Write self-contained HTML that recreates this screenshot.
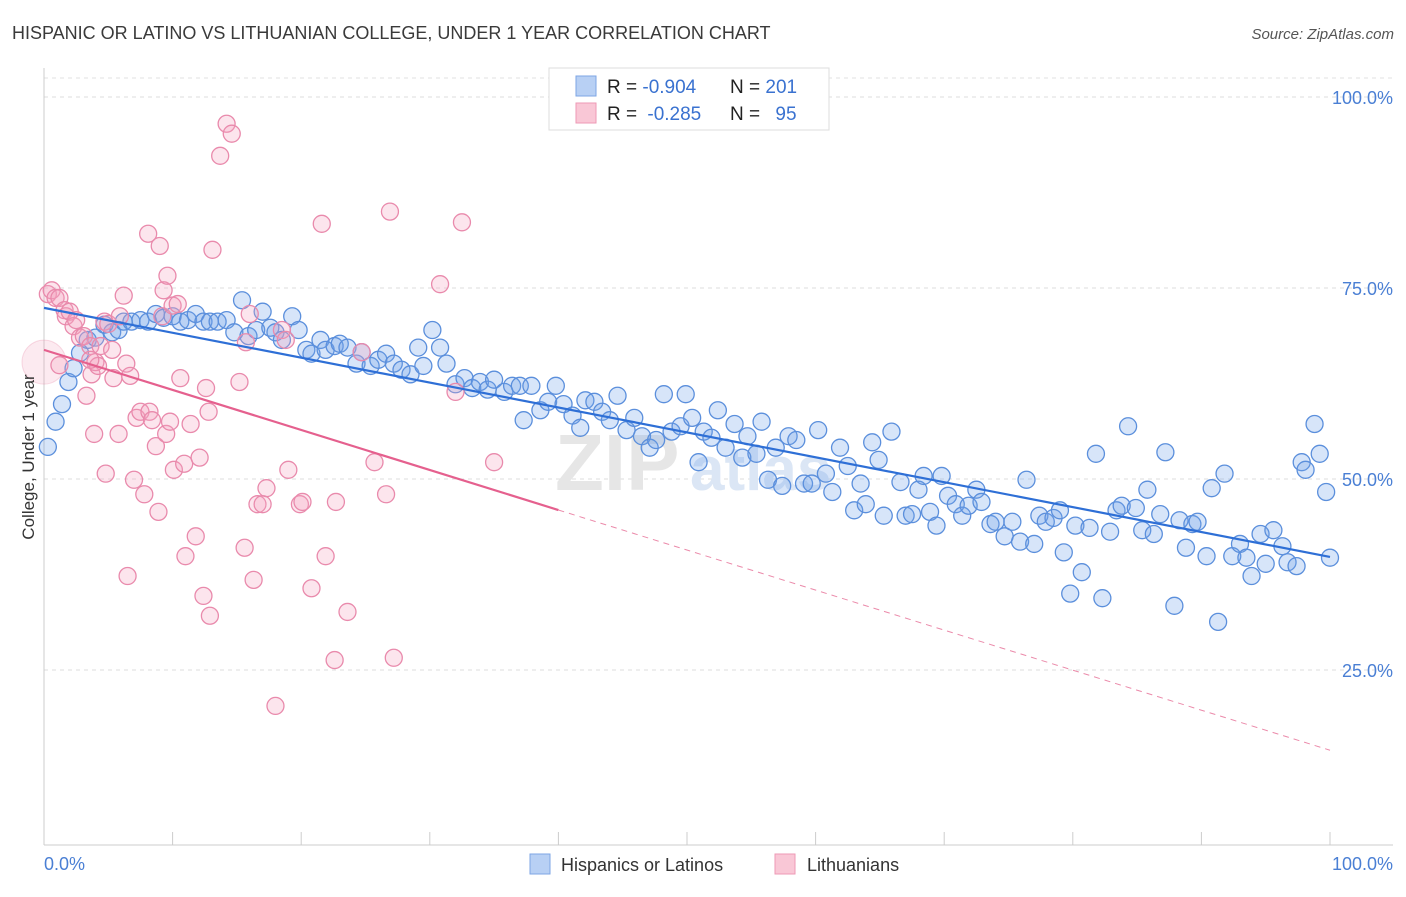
<!DOCTYPE html>
<html><head><meta charset="utf-8">
<style>
body{margin:0;background:#fff;font-family:"Liberation Sans",sans-serif;}
svg text{font-family:"Liberation Sans",sans-serif;}
</style></head>
<body>
<svg id="chart" width="1406" height="892" viewBox="0 0 1406 892">
<text x="12" y="39" font-size="18" fill="#3a3a3a">HISPANIC OR LATINO VS LITHUANIAN COLLEGE, UNDER 1 YEAR CORRELATION CHART</text>
<text x="1394" y="39" font-size="15" font-style="italic" fill="#555" text-anchor="end">Source: ZipAtlas.com</text>
<g id="grid"></g>
<text x="555" y="490" font-size="80" font-family="Liberation Serif" fill="#e6e6e6" font-weight="bold">ZIP</text>
<text x="690" y="490" font-size="62" fill="#dbe6f5" font-weight="bold">atlas</text>
<g id="axes"></g>
<g id="pts"></g>
<g id="lines"></g>
<text transform="translate(34,457) rotate(-90)" font-size="17" fill="#333" text-anchor="middle">College, Under 1 year</text>
<text x="44" y="870" font-size="18" fill="#4a7fd4">0.0%</text>
<text x="1393" y="870" font-size="18" fill="#4a7fd4" text-anchor="end">100.0%</text>
<g>
<rect x="549" y="68" width="280" height="62" fill="#fff" stroke="#ddd"/>
<rect x="576" y="76" width="20" height="20" fill="#b8d0f4" stroke="#7ea6e4"/>
<rect x="576" y="103" width="20" height="20" fill="#f9c7d6" stroke="#ee9ab5"/>
<text x="607" y="93" font-size="19" fill="#222">R = <tspan fill="#3a72d0">-0.904</tspan><tspan x="730">N = </tspan><tspan fill="#3a72d0">201</tspan></text>
<text x="607" y="120" font-size="19" fill="#222">R = <tspan fill="#3a72d0" dx="5">-0.285</tspan><tspan x="730">N = </tspan><tspan fill="#3a72d0" dx="10">95</tspan></text>
</g>
<g>
<rect x="530" y="854" width="20" height="20" fill="#b8d0f4" stroke="#7ea6e4"/>
<text x="561" y="871" font-size="18" fill="#333">Hispanics or Latinos</text>
<rect x="775" y="854" width="20" height="20" fill="#f9c7d6" stroke="#ee9ab5"/>
<text x="807" y="871" font-size="18" fill="#333">Lithuanians</text>
</g>
</svg>
<script>
const yTicks=[25,50,75,100];
const yTickLabels=["25.0%","50.0%","75.0%","100.0%"];
const xTicks=[0,10,20,30,40,50,60,70,80,90,100];
const blueX=[0.3,0.9,1.4,1.9,2.3,2.8,3.4,4.0,4.7,5.3,5.8,6.2,6.8,7.5,8.1,8.7,9.3,10.0,10.6,11.2,11.8,12.4,12.9,13.5,14.2,14.8,15.4,15.9,16.5,17.0,17.6,18.0,18.5,19.3,19.8,20.4,20.8,21.5,21.9,22.6,23.0,23.6,24.3,24.7,25.4,26.0,26.6,27.2,27.8,28.5,29.1,29.5,30.2,30.8,31.3,32.0,32.7,33.3,33.9,34.5,35.0,35.8,36.4,37.0,37.3,37.9,38.6,39.2,39.8,40.4,41.1,41.7,42.1,42.8,43.4,44.0,44.6,45.3,45.9,46.5,47.1,47.6,48.2,48.8,49.5,49.9,50.4,50.9,51.3,51.9,52.4,53.0,53.7,54.3,54.7,55.4,55.8,56.3,56.9,57.4,57.9,58.5,59.1,59.7,60.2,60.8,61.3,61.9,62.5,63.0,63.5,63.9,64.4,64.9,65.3,65.9,66.6,67.0,67.5,68.0,68.4,68.9,69.4,69.8,70.3,70.9,71.4,71.9,72.5,72.9,73.6,74.0,74.7,75.3,75.9,76.4,77.0,77.4,77.9,78.5,79.0,79.3,79.8,80.2,80.7,81.3,81.8,82.3,82.9,83.4,83.8,84.3,84.9,85.4,85.8,86.3,86.8,87.2,87.9,88.3,88.8,89.3,89.7,90.4,90.8,91.3,91.8,92.4,93.0,93.5,93.9,94.6,95.0,95.6,96.3,96.7,97.4,97.8,98.1,98.8,99.2,99.7,100.0];
const blueY=[54.2,57.5,59.8,62.7,64.5,66.5,68.2,68.5,70.2,69.2,69.5,70.6,70.6,70.8,70.6,71.6,71.1,71.3,70.6,70.8,71.6,70.6,70.6,70.6,70.8,69.2,73.4,68.7,69.5,71.9,69.8,69.2,68.2,71.3,69.5,66.9,66.4,68.2,66.9,67.4,67.7,67.2,65.1,66.6,64.8,65.6,66.4,65.1,64.3,63.7,67.2,64.8,69.5,67.2,65.1,62.4,63.2,61.9,62.7,61.7,63.0,61.4,62.2,62.2,57.7,62.2,59.0,60.1,62.2,59.8,58.3,56.7,60.3,60.1,58.8,57.7,60.9,56.4,58.0,55.6,54.1,55.1,61.1,56.2,56.9,61.1,58.0,52.2,56.2,55.4,59.0,54.1,57.2,52.8,55.6,53.3,57.5,49.9,54.1,49.1,55.6,55.1,49.4,49.4,56.4,50.7,48.3,54.1,51.7,45.9,49.4,46.7,54.8,52.5,45.2,56.2,49.6,45.2,45.4,48.6,50.4,45.7,43.9,50.4,47.8,46.7,45.2,46.5,48.6,47.0,44.1,44.4,42.5,44.4,41.8,49.9,41.5,45.2,44.4,44.9,45.9,40.4,35.0,43.9,37.8,43.6,53.3,34.4,43.1,45.9,46.5,56.9,46.2,43.3,48.6,42.8,45.4,53.5,33.4,44.6,41.0,44.1,44.4,39.9,48.8,31.3,50.7,39.9,41.5,39.7,37.3,42.8,38.9,43.3,41.2,39.1,38.6,52.2,51.2,57.2,53.3,48.3,39.7];
const pinkX=[0.3,0.6,0.9,1.2,1.6,1.7,2.0,2.3,2.5,2.8,3.1,3.3,3.6,3.7,3.9,4.0,4.2,4.4,4.7,4.8,5.0,5.3,5.4,5.8,5.9,6.2,6.4,6.5,6.7,7.0,7.2,7.5,7.8,8.1,8.2,8.4,8.7,8.9,9.0,9.2,9.3,9.5,9.6,9.8,10.0,10.1,10.4,10.6,10.9,11.0,11.4,11.8,12.1,12.4,12.6,12.8,12.9,13.1,13.7,14.2,14.6,15.2,15.6,15.7,16.0,16.3,16.6,17.0,17.3,18.0,18.5,18.8,19.0,19.9,20.1,20.8,21.6,21.9,22.6,22.7,23.6,24.7,25.7,26.6,26.9,27.2,30.8,32.0,32.5,35.0,3.6,1.2];
const pinkY=[74.2,74.7,73.7,73.7,72.1,71.3,71.9,70.0,70.8,68.5,68.7,60.9,67.4,63.7,55.9,65.3,64.8,67.4,70.6,50.7,70.3,66.9,63.2,55.9,71.3,74.0,65.1,37.3,63.5,49.9,58.0,58.8,48.0,82.1,58.8,57.7,54.3,45.7,80.5,71.3,74.7,55.9,76.6,57.5,72.7,51.2,72.9,63.2,52.0,39.9,57.2,42.5,52.8,34.7,61.9,58.8,32.1,80.0,92.3,96.5,95.2,62.7,41.0,67.9,71.6,36.8,46.7,46.7,48.8,20.3,69.5,68.2,51.2,46.7,47.0,35.7,83.4,39.9,26.3,47.0,32.6,66.6,52.2,48.0,85.0,26.6,75.5,61.4,83.6,52.2,65.6,64.9];
const blueTrend=[72.4,39.8];
const pinkTrend=[66.9,14.5];
const pinkSolidEnd=40;

const NS="http://www.w3.org/2000/svg";
const X0=44,X1=1330,Y0=861,PPY=7.64;
function sx(v){return X0+(X1-X0)*v/100;}
function sy(v){return Y0-v*PPY;}
function mk(tag,attrs,parent){const e=document.createElementNS(NS,tag);for(const k in attrs)e.setAttribute(k,attrs[k]);parent.appendChild(e);return e;}
const grid=document.getElementById('grid'),axes=document.getElementById('axes'),pts=document.getElementById('pts'),lines=document.getElementById('lines');
const topLine=mk('line',{x1:44,x2:1393,y1:78,y2:78,stroke:'#e2e2e2','stroke-dasharray':'4,4'},grid);


yTicks.forEach((t,i)=>{
  const l=mk('line',{x1:44,x2:1393,y1:sy(t),y2:sy(t),stroke:'#dedede','stroke-dasharray':'4,4'},grid);
  
  
  const tx=mk('text',{x:1393,y:sy(t)+7,'font-size':18,fill:'#4a7fd4','text-anchor':'end'},axes);
  tx.textContent=yTickLabels[i];
  
  
});
const ya=mk('line',{x1:44,x2:44,y1:68,y2:845,stroke:'#ccc'},axes);


const xa=mk('line',{x1:44,x2:1393,y1:845,y2:845,stroke:'#ccc'},axes);


xTicks.forEach(t=>{
  const l=mk('line',{x1:sx(t),x2:sx(t),y1:832,y2:845,stroke:'#ccc'},axes);
  
  
});
const big=mk('circle',{cx:sx(0),cy:sy(65.3),r:22,fill:'rgba(240,150,180,0.2)',stroke:'rgba(232,138,170,0.3)'},pts);


blueX.forEach((x,i)=>{
  const c=mk('circle',{cx:sx(x),cy:sy(blueY[i]),r:8.5,fill:'rgba(110,160,235,0.28)',stroke:'#5b8fdc','stroke-width':1.3},pts);
  
  
});
pinkX.forEach((x,i)=>{
  const c=mk('circle',{cx:sx(x),cy:sy(pinkY[i]),r:8.5,fill:'rgba(245,160,190,0.28)',stroke:'#e98aac','stroke-width':1.3},pts);
  
  
});
const bl=mk('line',{x1:sx(0),y1:sy(blueTrend[0]),x2:sx(100),y2:sy(blueTrend[1]),stroke:'#2e6fd6','stroke-width':2.2},lines);


const pAt=v=>pinkTrend[0]+(pinkTrend[1]-pinkTrend[0])*v/100;
const pl=mk('line',{x1:sx(0),y1:sy(pinkTrend[0]),x2:sx(pinkSolidEnd),y2:sy(pAt(pinkSolidEnd)),stroke:'#e5608e','stroke-width':2.2},lines);


const pd=mk('line',{x1:sx(pinkSolidEnd),y1:sy(pAt(pinkSolidEnd)),x2:sx(100),y2:sy(pinkTrend[1]),stroke:'#eb8aaa','stroke-width':1,'stroke-dasharray':'6,5'},lines);


</script>
</body></html>
